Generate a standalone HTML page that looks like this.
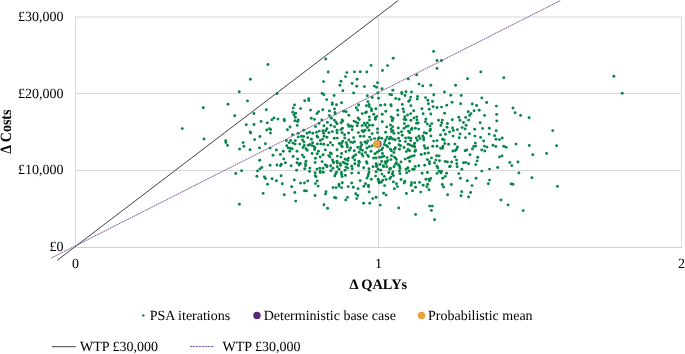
<!DOCTYPE html>
<html><head><meta charset="utf-8"><style>
html,body{margin:0;padding:0;background:#fff;width:685px;height:354px;overflow:hidden}
svg{display:block;text-rendering:geometricPrecision;will-change:transform;font-family:"Liberation Serif",serif;font-size:14px;fill:#000}
</style></head><body>
<svg width="685" height="354" viewBox="0 0 685 354">
<g stroke="#d9d9d9" stroke-width="1" fill="none">
<path d="M75 17H682M75 93.5H682M75 170.5H682M75.5 17V247.5M378.5 17V247.5M681.5 17V247.5"/>
<path d="M75 247.45H682" stroke="#d0d0d0" stroke-width="1.1"/>
</g>
<g fill="#068449"><circle cx="267.9" cy="64.5" r="1.45"/><circle cx="325.8" cy="59" r="1.45"/><circle cx="328.2" cy="72" r="1.45"/><circle cx="346.8" cy="72.6" r="1.45"/><circle cx="345.5" cy="76.6" r="1.45"/><circle cx="354.4" cy="71.9" r="1.45"/><circle cx="360.3" cy="71.7" r="1.45"/><circle cx="366.8" cy="72" r="1.45"/><circle cx="357.1" cy="79.2" r="1.45"/><circle cx="250.4" cy="79.2" r="1.45"/><circle cx="371.1" cy="65.4" r="1.45"/><circle cx="382.5" cy="70.5" r="1.45"/><circle cx="387.6" cy="65.6" r="1.45"/><circle cx="393.2" cy="58.2" r="1.45"/><circle cx="433.6" cy="51.4" r="1.45"/><circle cx="437" cy="60.5" r="1.45"/><circle cx="441.5" cy="60.5" r="1.45"/><circle cx="437" cy="68.4" r="1.45"/><circle cx="416.7" cy="74.9" r="1.45"/><circle cx="408.3" cy="78.9" r="1.45"/><circle cx="480.8" cy="71.9" r="1.45"/><circle cx="467.5" cy="78.7" r="1.45"/><circle cx="503.8" cy="77.7" r="1.45"/><circle cx="613.9" cy="76.2" r="1.45"/><circle cx="203.3" cy="107.7" r="1.45"/><circle cx="228" cy="104.3" r="1.45"/><circle cx="239.3" cy="91.8" r="1.45"/><circle cx="234.7" cy="115.7" r="1.45"/><circle cx="247.5" cy="100.9" r="1.45"/><circle cx="277.1" cy="93.5" r="1.45"/><circle cx="253.9" cy="113.5" r="1.45"/><circle cx="266.3" cy="109.8" r="1.45"/><circle cx="294.5" cy="105" r="1.45"/><circle cx="293.2" cy="108.1" r="1.45"/><circle cx="300.6" cy="108.6" r="1.45"/><circle cx="292.8" cy="112.3" r="1.45"/><circle cx="295.6" cy="113.2" r="1.45"/><circle cx="293.9" cy="115.1" r="1.45"/><circle cx="304.7" cy="100.8" r="1.45"/><circle cx="323.5" cy="81.6" r="1.45"/><circle cx="341" cy="81.2" r="1.45"/><circle cx="352.1" cy="83.5" r="1.45"/><circle cx="339.9" cy="85.3" r="1.45"/><circle cx="356.7" cy="86.3" r="1.45"/><circle cx="364.4" cy="86.6" r="1.45"/><circle cx="342.9" cy="90.8" r="1.45"/><circle cx="353.6" cy="93" r="1.45"/><circle cx="322.1" cy="93.4" r="1.45"/><circle cx="323.9" cy="94.8" r="1.45"/><circle cx="334.1" cy="95.5" r="1.45"/><circle cx="367.3" cy="95.8" r="1.45"/><circle cx="308.7" cy="98.8" r="1.45"/><circle cx="308.9" cy="100.6" r="1.45"/><circle cx="326.7" cy="99.6" r="1.45"/><circle cx="332.2" cy="103" r="1.45"/><circle cx="332.3" cy="104.4" r="1.45"/><circle cx="336.5" cy="104.8" r="1.45"/><circle cx="341.5" cy="102.8" r="1.45"/><circle cx="367.9" cy="101.6" r="1.45"/><circle cx="358.6" cy="105" r="1.45"/><circle cx="356.3" cy="107.7" r="1.45"/><circle cx="357.7" cy="110.1" r="1.45"/><circle cx="366.4" cy="105.8" r="1.45"/><circle cx="369.1" cy="104.4" r="1.45"/><circle cx="369.3" cy="106.6" r="1.45"/><circle cx="310.5" cy="110.1" r="1.45"/><circle cx="322.8" cy="109.8" r="1.45"/><circle cx="334.5" cy="108.9" r="1.45"/><circle cx="329.4" cy="110.9" r="1.45"/><circle cx="318.6" cy="111.6" r="1.45"/><circle cx="317" cy="113.5" r="1.45"/><circle cx="335" cy="112.5" r="1.45"/><circle cx="343.7" cy="111.3" r="1.45"/><circle cx="346.2" cy="111.7" r="1.45"/><circle cx="335.2" cy="113.9" r="1.45"/><circle cx="348.9" cy="115.2" r="1.45"/><circle cx="362.2" cy="113.6" r="1.45"/><circle cx="365.4" cy="112.7" r="1.45"/><circle cx="366.5" cy="112" r="1.45"/><circle cx="329.4" cy="115.6" r="1.45"/><circle cx="377.5" cy="82.8" r="1.45"/><circle cx="374.3" cy="86.1" r="1.45"/><circle cx="376.5" cy="87.3" r="1.45"/><circle cx="382" cy="88.7" r="1.45"/><circle cx="392.8" cy="90.2" r="1.45"/><circle cx="377.7" cy="93" r="1.45"/><circle cx="372.2" cy="97.5" r="1.45"/><circle cx="378.5" cy="98.3" r="1.45"/><circle cx="389.9" cy="94.4" r="1.45"/><circle cx="391.6" cy="94.8" r="1.45"/><circle cx="395.7" cy="98.4" r="1.45"/><circle cx="399.1" cy="99.3" r="1.45"/><circle cx="401.7" cy="92.4" r="1.45"/><circle cx="401.9" cy="93.8" r="1.45"/><circle cx="405" cy="95.5" r="1.45"/><circle cx="406" cy="91.8" r="1.45"/><circle cx="411.5" cy="92" r="1.45"/><circle cx="419" cy="84.1" r="1.45"/><circle cx="422.7" cy="85.9" r="1.45"/><circle cx="430.8" cy="85.3" r="1.45"/><circle cx="410.7" cy="97.1" r="1.45"/><circle cx="409.9" cy="99.9" r="1.45"/><circle cx="408.7" cy="101.4" r="1.45"/><circle cx="417.5" cy="96.5" r="1.45"/><circle cx="417.2" cy="99.1" r="1.45"/><circle cx="425.5" cy="97.6" r="1.45"/><circle cx="427.8" cy="100.3" r="1.45"/><circle cx="432.5" cy="101.4" r="1.45"/><circle cx="433.8" cy="94.8" r="1.45"/><circle cx="428.4" cy="103.8" r="1.45"/><circle cx="433.1" cy="106.6" r="1.45"/><circle cx="380.6" cy="105.2" r="1.45"/><circle cx="384.9" cy="104.8" r="1.45"/><circle cx="390.8" cy="104.8" r="1.45"/><circle cx="391.2" cy="105.8" r="1.45"/><circle cx="402.3" cy="104.4" r="1.45"/><circle cx="410.9" cy="105.8" r="1.45"/><circle cx="371.4" cy="108.9" r="1.45"/><circle cx="371.6" cy="110.7" r="1.45"/><circle cx="375.9" cy="108.7" r="1.45"/><circle cx="385.8" cy="111.3" r="1.45"/><circle cx="397.7" cy="110.3" r="1.45"/><circle cx="403.1" cy="108.9" r="1.45"/><circle cx="403.8" cy="111.7" r="1.45"/><circle cx="413.7" cy="110.7" r="1.45"/><circle cx="421.9" cy="108.7" r="1.45"/><circle cx="429.2" cy="109.3" r="1.45"/><circle cx="373.7" cy="114.2" r="1.45"/><circle cx="382.2" cy="114.2" r="1.45"/><circle cx="397.9" cy="115" r="1.45"/><circle cx="407.6" cy="115" r="1.45"/><circle cx="410.7" cy="113.6" r="1.45"/><circle cx="423.1" cy="113.8" r="1.45"/><circle cx="430.8" cy="114" r="1.45"/><circle cx="455.6" cy="85.3" r="1.45"/><circle cx="444.4" cy="92" r="1.45"/><circle cx="450.8" cy="95.3" r="1.45"/><circle cx="461.2" cy="95.5" r="1.45"/><circle cx="481.8" cy="97.9" r="1.45"/><circle cx="452" cy="102.2" r="1.45"/><circle cx="460.6" cy="103.7" r="1.45"/><circle cx="446.8" cy="105.2" r="1.45"/><circle cx="437" cy="107.5" r="1.45"/><circle cx="441.5" cy="107.1" r="1.45"/><circle cx="472.3" cy="104" r="1.45"/><circle cx="476.5" cy="105.5" r="1.45"/><circle cx="486.7" cy="102.5" r="1.45"/><circle cx="496.4" cy="106.1" r="1.45"/><circle cx="474.1" cy="110.7" r="1.45"/><circle cx="479.2" cy="110.3" r="1.45"/><circle cx="468.2" cy="111.7" r="1.45"/><circle cx="471" cy="113.6" r="1.45"/><circle cx="444.6" cy="113.2" r="1.45"/><circle cx="469.6" cy="115.4" r="1.45"/><circle cx="484.6" cy="115.4" r="1.45"/><circle cx="496.6" cy="114.4" r="1.45"/><circle cx="513" cy="108" r="1.45"/><circle cx="515.1" cy="112.8" r="1.45"/><circle cx="520.6" cy="115.4" r="1.45"/><circle cx="622.2" cy="93.3" r="1.45"/><circle cx="182.3" cy="128.6" r="1.45"/><circle cx="204" cy="139" r="1.45"/><circle cx="225.7" cy="140.7" r="1.45"/><circle cx="225.9" cy="142.5" r="1.45"/><circle cx="227.5" cy="145.4" r="1.45"/><circle cx="239.6" cy="149.1" r="1.45"/><circle cx="246.3" cy="124.7" r="1.45"/><circle cx="254" cy="124.5" r="1.45"/><circle cx="261.1" cy="121.4" r="1.45"/><circle cx="267.3" cy="122.9" r="1.45"/><circle cx="271.9" cy="119.7" r="1.45"/><circle cx="274" cy="118" r="1.45"/><circle cx="278" cy="119.1" r="1.45"/><circle cx="284.1" cy="119.5" r="1.45"/><circle cx="284.4" cy="120.7" r="1.45"/><circle cx="295.3" cy="117.2" r="1.45"/><circle cx="294.9" cy="120.7" r="1.45"/><circle cx="298.2" cy="119.9" r="1.45"/><circle cx="297.6" cy="121.5" r="1.45"/><circle cx="297.2" cy="125.4" r="1.45"/><circle cx="290" cy="127" r="1.45"/><circle cx="287.4" cy="129.8" r="1.45"/><circle cx="266.7" cy="130" r="1.45"/><circle cx="269.5" cy="128.8" r="1.45"/><circle cx="270.7" cy="129.6" r="1.45"/><circle cx="270.5" cy="133.1" r="1.45"/><circle cx="250.2" cy="131.9" r="1.45"/><circle cx="250.6" cy="132.9" r="1.45"/><circle cx="259.9" cy="136.5" r="1.45"/><circle cx="254.6" cy="139.6" r="1.45"/><circle cx="243.1" cy="142.6" r="1.45"/><circle cx="243.9" cy="146.3" r="1.45"/><circle cx="250" cy="149.8" r="1.45"/><circle cx="259.5" cy="147.9" r="1.45"/><circle cx="265.4" cy="143.7" r="1.45"/><circle cx="270.1" cy="148.1" r="1.45"/><circle cx="276.4" cy="150" r="1.45"/><circle cx="283.3" cy="151.2" r="1.45"/><circle cx="303.7" cy="130.2" r="1.45"/><circle cx="298.2" cy="133.3" r="1.45"/><circle cx="292.5" cy="134.7" r="1.45"/><circle cx="298.2" cy="136.9" r="1.45"/><circle cx="301.4" cy="136.3" r="1.45"/><circle cx="303.7" cy="136.5" r="1.45"/><circle cx="286.4" cy="140.6" r="1.45"/><circle cx="290.7" cy="140.4" r="1.45"/><circle cx="295.3" cy="140.8" r="1.45"/><circle cx="289.2" cy="142.6" r="1.45"/><circle cx="292.9" cy="143.1" r="1.45"/><circle cx="295.1" cy="144.1" r="1.45"/><circle cx="299.8" cy="144.1" r="1.45"/><circle cx="302.5" cy="140" r="1.45"/><circle cx="303.9" cy="142" r="1.45"/><circle cx="286.8" cy="145.7" r="1.45"/><circle cx="288.2" cy="147.9" r="1.45"/><circle cx="290" cy="148.3" r="1.45"/><circle cx="292.1" cy="148.7" r="1.45"/><circle cx="303.1" cy="147.5" r="1.45"/><circle cx="304.3" cy="145.5" r="1.45"/><circle cx="289.8" cy="151.2" r="1.45"/><circle cx="297" cy="151.2" r="1.45"/><circle cx="311.3" cy="118.3" r="1.45"/><circle cx="314.5" cy="119.4" r="1.45"/><circle cx="321.8" cy="119.9" r="1.45"/><circle cx="319" cy="123.4" r="1.45"/><circle cx="315.6" cy="126.6" r="1.45"/><circle cx="327.4" cy="122.4" r="1.45"/><circle cx="323.9" cy="125.7" r="1.45"/><circle cx="330.9" cy="125.2" r="1.45"/><circle cx="334.6" cy="126.7" r="1.45"/><circle cx="331.4" cy="118.3" r="1.45"/><circle cx="334.3" cy="120.1" r="1.45"/><circle cx="335.8" cy="122" r="1.45"/><circle cx="337.1" cy="123.7" r="1.45"/><circle cx="326.9" cy="128.8" r="1.45"/><circle cx="325.7" cy="130.7" r="1.45"/><circle cx="322.9" cy="130.7" r="1.45"/><circle cx="319.3" cy="131.1" r="1.45"/><circle cx="316.5" cy="132.2" r="1.45"/><circle cx="309.6" cy="132.2" r="1.45"/><circle cx="307" cy="133.3" r="1.45"/><circle cx="312.8" cy="133.3" r="1.45"/><circle cx="323.6" cy="133.3" r="1.45"/><circle cx="328.9" cy="132.8" r="1.45"/><circle cx="332.3" cy="131.6" r="1.45"/><circle cx="337" cy="130.2" r="1.45"/><circle cx="337" cy="132.8" r="1.45"/><circle cx="342.1" cy="120" r="1.45"/><circle cx="342.8" cy="121.1" r="1.45"/><circle cx="341.1" cy="122.8" r="1.45"/><circle cx="348.1" cy="124.6" r="1.45"/><circle cx="349" cy="126.4" r="1.45"/><circle cx="350.7" cy="126" r="1.45"/><circle cx="352.3" cy="126.5" r="1.45"/><circle cx="352.2" cy="129.8" r="1.45"/><circle cx="342.4" cy="128.2" r="1.45"/><circle cx="340.9" cy="129.6" r="1.45"/><circle cx="342.1" cy="132.8" r="1.45"/><circle cx="348.6" cy="133" r="1.45"/><circle cx="354" cy="121.1" r="1.45"/><circle cx="356.1" cy="122.1" r="1.45"/><circle cx="358.1" cy="118" r="1.45"/><circle cx="359.3" cy="119.6" r="1.45"/><circle cx="357.8" cy="123.1" r="1.45"/><circle cx="357.2" cy="125.7" r="1.45"/><circle cx="362.1" cy="125.5" r="1.45"/><circle cx="364.3" cy="123.1" r="1.45"/><circle cx="367.4" cy="122.9" r="1.45"/><circle cx="365.5" cy="125.2" r="1.45"/><circle cx="367.4" cy="127.5" r="1.45"/><circle cx="369.3" cy="117" r="1.45"/><circle cx="369.5" cy="120.1" r="1.45"/><circle cx="369.4" cy="125.2" r="1.45"/><circle cx="362.1" cy="130.7" r="1.45"/><circle cx="364.9" cy="130.2" r="1.45"/><circle cx="363.4" cy="131.8" r="1.45"/><circle cx="369" cy="130.2" r="1.45"/><circle cx="358.4" cy="132.6" r="1.45"/><circle cx="307.8" cy="137.6" r="1.45"/><circle cx="311.4" cy="139.3" r="1.45"/><circle cx="317" cy="136" r="1.45"/><circle cx="317.7" cy="137.3" r="1.45"/><circle cx="324.1" cy="136.2" r="1.45"/><circle cx="327" cy="137.2" r="1.45"/><circle cx="320.3" cy="140.4" r="1.45"/><circle cx="322.5" cy="139.1" r="1.45"/><circle cx="334.3" cy="138.2" r="1.45"/><circle cx="337.3" cy="138.1" r="1.45"/><circle cx="312.6" cy="142.7" r="1.45"/><circle cx="308.4" cy="145.3" r="1.45"/><circle cx="310" cy="144.4" r="1.45"/><circle cx="312.1" cy="145.6" r="1.45"/><circle cx="314.2" cy="146.7" r="1.45"/><circle cx="315" cy="147.9" r="1.45"/><circle cx="314.5" cy="149.6" r="1.45"/><circle cx="317.4" cy="143.9" r="1.45"/><circle cx="320.9" cy="143.9" r="1.45"/><circle cx="323.8" cy="144.2" r="1.45"/><circle cx="327.9" cy="145.1" r="1.45"/><circle cx="330.4" cy="142.6" r="1.45"/><circle cx="332.7" cy="145.1" r="1.45"/><circle cx="325.3" cy="149.9" r="1.45"/><circle cx="306" cy="148.7" r="1.45"/><circle cx="307.2" cy="150.3" r="1.45"/><circle cx="318.5" cy="151.3" r="1.45"/><circle cx="337" cy="149.8" r="1.45"/><circle cx="344.6" cy="134.7" r="1.45"/><circle cx="360.2" cy="136.2" r="1.45"/><circle cx="363.9" cy="136.3" r="1.45"/><circle cx="369.5" cy="137.1" r="1.45"/><circle cx="344.7" cy="137.9" r="1.45"/><circle cx="353.6" cy="137.6" r="1.45"/><circle cx="348.8" cy="139.9" r="1.45"/><circle cx="342.9" cy="141.1" r="1.45"/><circle cx="339.2" cy="143.5" r="1.45"/><circle cx="341.6" cy="142.9" r="1.45"/><circle cx="341.3" cy="145.4" r="1.45"/><circle cx="342.3" cy="146.7" r="1.45"/><circle cx="346.2" cy="142.6" r="1.45"/><circle cx="347" cy="144.7" r="1.45"/><circle cx="347.4" cy="147.1" r="1.45"/><circle cx="350.7" cy="142.1" r="1.45"/><circle cx="352.8" cy="142.6" r="1.45"/><circle cx="354.5" cy="141.6" r="1.45"/><circle cx="360.9" cy="142.6" r="1.45"/><circle cx="361.7" cy="144.7" r="1.45"/><circle cx="364.9" cy="141.9" r="1.45"/><circle cx="367.7" cy="140.9" r="1.45"/><circle cx="366.5" cy="143.2" r="1.45"/><circle cx="357.8" cy="147.2" r="1.45"/><circle cx="360.7" cy="146.7" r="1.45"/><circle cx="360.4" cy="149.3" r="1.45"/><circle cx="362.4" cy="150.3" r="1.45"/><circle cx="366.9" cy="148" r="1.45"/><circle cx="369.3" cy="146.7" r="1.45"/><circle cx="350.7" cy="148" r="1.45"/><circle cx="349.4" cy="150.3" r="1.45"/><circle cx="354.3" cy="150.8" r="1.45"/><circle cx="345.9" cy="151.6" r="1.45"/><circle cx="376.6" cy="116.4" r="1.45"/><circle cx="375.3" cy="117.8" r="1.45"/><circle cx="375.4" cy="119.2" r="1.45"/><circle cx="382.3" cy="121.8" r="1.45"/><circle cx="391.2" cy="117" r="1.45"/><circle cx="393.2" cy="118.1" r="1.45"/><circle cx="392.4" cy="119.6" r="1.45"/><circle cx="392.2" cy="120.7" r="1.45"/><circle cx="372.7" cy="125.2" r="1.45"/><circle cx="377.5" cy="129" r="1.45"/><circle cx="386.7" cy="126.9" r="1.45"/><circle cx="390.4" cy="124.9" r="1.45"/><circle cx="392.6" cy="126.7" r="1.45"/><circle cx="391.1" cy="129" r="1.45"/><circle cx="391.4" cy="131.6" r="1.45"/><circle cx="392.9" cy="130.8" r="1.45"/><circle cx="398.3" cy="127.9" r="1.45"/><circle cx="372.1" cy="133.6" r="1.45"/><circle cx="377.5" cy="132.6" r="1.45"/><circle cx="385.5" cy="132.3" r="1.45"/><circle cx="393.9" cy="133.3" r="1.45"/><circle cx="398.5" cy="133.1" r="1.45"/><circle cx="401.5" cy="131.8" r="1.45"/><circle cx="404.8" cy="116.7" r="1.45"/><circle cx="404" cy="119.4" r="1.45"/><circle cx="405.9" cy="119.8" r="1.45"/><circle cx="410.9" cy="120.3" r="1.45"/><circle cx="413.9" cy="118" r="1.45"/><circle cx="416.7" cy="117" r="1.45"/><circle cx="416.9" cy="119.9" r="1.45"/><circle cx="404.3" cy="123.6" r="1.45"/><circle cx="416.5" cy="123.3" r="1.45"/><circle cx="418.2" cy="123" r="1.45"/><circle cx="425.9" cy="119.1" r="1.45"/><circle cx="425.5" cy="121.7" r="1.45"/><circle cx="427.4" cy="124.1" r="1.45"/><circle cx="431.8" cy="123.6" r="1.45"/><circle cx="430.1" cy="126" r="1.45"/><circle cx="406.1" cy="126.7" r="1.45"/><circle cx="408.1" cy="126" r="1.45"/><circle cx="404" cy="128.4" r="1.45"/><circle cx="412" cy="128.2" r="1.45"/><circle cx="411.4" cy="129.7" r="1.45"/><circle cx="415.4" cy="128.2" r="1.45"/><circle cx="418.7" cy="129.1" r="1.45"/><circle cx="430.5" cy="129.2" r="1.45"/><circle cx="429.9" cy="130.7" r="1.45"/><circle cx="408.5" cy="131.3" r="1.45"/><circle cx="409.7" cy="132.8" r="1.45"/><circle cx="424.2" cy="132.6" r="1.45"/><circle cx="426.4" cy="133.3" r="1.45"/><circle cx="374.6" cy="138.6" r="1.45"/><circle cx="378.2" cy="138.8" r="1.45"/><circle cx="379.2" cy="137.8" r="1.45"/><circle cx="381.8" cy="138.3" r="1.45"/><circle cx="371" cy="139.6" r="1.45"/><circle cx="387.1" cy="137.1" r="1.45"/><circle cx="390.4" cy="137.1" r="1.45"/><circle cx="385.8" cy="139.6" r="1.45"/><circle cx="384.8" cy="141.6" r="1.45"/><circle cx="389.3" cy="139.1" r="1.45"/><circle cx="391.4" cy="138.3" r="1.45"/><circle cx="392.9" cy="139.1" r="1.45"/><circle cx="395.2" cy="139.7" r="1.45"/><circle cx="398.5" cy="138.3" r="1.45"/><circle cx="399.7" cy="140.9" r="1.45"/><circle cx="389.4" cy="143.2" r="1.45"/><circle cx="384.3" cy="144.5" r="1.45"/><circle cx="386.3" cy="145.4" r="1.45"/><circle cx="387.8" cy="146.7" r="1.45"/><circle cx="395.4" cy="147.7" r="1.45"/><circle cx="394.4" cy="149.3" r="1.45"/><circle cx="399" cy="144.7" r="1.45"/><circle cx="400.5" cy="145.7" r="1.45"/><circle cx="372.1" cy="146" r="1.45"/><circle cx="382.7" cy="148" r="1.45"/><circle cx="381.7" cy="149.8" r="1.45"/><circle cx="379.2" cy="150.8" r="1.45"/><circle cx="390.4" cy="149.3" r="1.45"/><circle cx="391.4" cy="150.8" r="1.45"/><circle cx="399.5" cy="149.3" r="1.45"/><circle cx="371" cy="151.3" r="1.45"/><circle cx="402.3" cy="135.2" r="1.45"/><circle cx="405.6" cy="137.9" r="1.45"/><circle cx="408.6" cy="137.8" r="1.45"/><circle cx="410.9" cy="138.1" r="1.45"/><circle cx="410.6" cy="140.6" r="1.45"/><circle cx="405.4" cy="141.6" r="1.45"/><circle cx="416.2" cy="137.9" r="1.45"/><circle cx="418.9" cy="136.2" r="1.45"/><circle cx="420.1" cy="138.6" r="1.45"/><circle cx="417.3" cy="140.4" r="1.45"/><circle cx="422.8" cy="136" r="1.45"/><circle cx="423.6" cy="137.7" r="1.45"/><circle cx="423.7" cy="139.9" r="1.45"/><circle cx="430.9" cy="135.9" r="1.45"/><circle cx="433.6" cy="141.1" r="1.45"/><circle cx="414.6" cy="143.2" r="1.45"/><circle cx="408.1" cy="144.2" r="1.45"/><circle cx="410.1" cy="144.9" r="1.45"/><circle cx="412.2" cy="146" r="1.45"/><circle cx="414.2" cy="145.7" r="1.45"/><circle cx="414.7" cy="147" r="1.45"/><circle cx="404" cy="147.5" r="1.45"/><circle cx="424.2" cy="145.7" r="1.45"/><circle cx="425.1" cy="148.2" r="1.45"/><circle cx="427.7" cy="148" r="1.45"/><circle cx="432.7" cy="146.2" r="1.45"/><circle cx="407.9" cy="149.5" r="1.45"/><circle cx="409.6" cy="150.8" r="1.45"/><circle cx="406.4" cy="151.6" r="1.45"/><circle cx="415.7" cy="150.1" r="1.45"/><circle cx="415" cy="151.3" r="1.45"/><circle cx="438.5" cy="120.3" r="1.45"/><circle cx="442.3" cy="120.1" r="1.45"/><circle cx="441.7" cy="122.7" r="1.45"/><circle cx="440.9" cy="125.4" r="1.45"/><circle cx="447.4" cy="123.5" r="1.45"/><circle cx="447" cy="127.2" r="1.45"/><circle cx="452.3" cy="119.7" r="1.45"/><circle cx="458.8" cy="117.2" r="1.45"/><circle cx="460" cy="120.3" r="1.45"/><circle cx="465.7" cy="117.4" r="1.45"/><circle cx="468.6" cy="120.1" r="1.45"/><circle cx="463.5" cy="122.5" r="1.45"/><circle cx="466.1" cy="125.2" r="1.45"/><circle cx="462.1" cy="127.6" r="1.45"/><circle cx="465.1" cy="129" r="1.45"/><circle cx="452.5" cy="128" r="1.45"/><circle cx="453.3" cy="130.4" r="1.45"/><circle cx="457.4" cy="129.6" r="1.45"/><circle cx="449.6" cy="131.9" r="1.45"/><circle cx="443.7" cy="130.2" r="1.45"/><circle cx="440.5" cy="134.9" r="1.45"/><circle cx="445.4" cy="134.3" r="1.45"/><circle cx="453.1" cy="136.1" r="1.45"/><circle cx="460" cy="133.9" r="1.45"/><circle cx="459.2" cy="137.8" r="1.45"/><circle cx="465.5" cy="137.6" r="1.45"/><circle cx="469.4" cy="133.7" r="1.45"/><circle cx="474.7" cy="129.2" r="1.45"/><circle cx="480.2" cy="122.7" r="1.45"/><circle cx="482.6" cy="128.4" r="1.45"/><circle cx="489.3" cy="128.2" r="1.45"/><circle cx="496.8" cy="120.9" r="1.45"/><circle cx="496.2" cy="130.8" r="1.45"/><circle cx="489.1" cy="134.1" r="1.45"/><circle cx="494.6" cy="135.7" r="1.45"/><circle cx="496" cy="139.2" r="1.45"/><circle cx="499.5" cy="139.6" r="1.45"/><circle cx="474.9" cy="136.1" r="1.45"/><circle cx="480.6" cy="137.4" r="1.45"/><circle cx="483.6" cy="141" r="1.45"/><circle cx="475.3" cy="143.1" r="1.45"/><circle cx="473.7" cy="146.5" r="1.45"/><circle cx="475.7" cy="146.1" r="1.45"/><circle cx="472.4" cy="148.9" r="1.45"/><circle cx="484.4" cy="146.1" r="1.45"/><circle cx="486.9" cy="147.1" r="1.45"/><circle cx="493" cy="145.3" r="1.45"/><circle cx="495.8" cy="146.5" r="1.45"/><circle cx="437" cy="140.6" r="1.45"/><circle cx="442.5" cy="139.2" r="1.45"/><circle cx="444.2" cy="140" r="1.45"/><circle cx="444.8" cy="143.5" r="1.45"/><circle cx="448.6" cy="144.3" r="1.45"/><circle cx="437" cy="146.3" r="1.45"/><circle cx="442.9" cy="146.1" r="1.45"/><circle cx="440.7" cy="148.3" r="1.45"/><circle cx="442.7" cy="148.3" r="1.45"/><circle cx="454.9" cy="144.1" r="1.45"/><circle cx="457.4" cy="146.9" r="1.45"/><circle cx="456.6" cy="149.2" r="1.45"/><circle cx="455.3" cy="150.6" r="1.45"/><circle cx="452.9" cy="151" r="1.45"/><circle cx="465.1" cy="150.8" r="1.45"/><circle cx="466.7" cy="150" r="1.45"/><circle cx="481.8" cy="150" r="1.45"/><circle cx="484.8" cy="151" r="1.45"/><circle cx="529.1" cy="117.8" r="1.45"/><circle cx="552.7" cy="130.6" r="1.45"/><circle cx="502.2" cy="138" r="1.45"/><circle cx="503.7" cy="146.3" r="1.45"/><circle cx="506.1" cy="147.3" r="1.45"/><circle cx="516.1" cy="144.1" r="1.45"/><circle cx="529.3" cy="145.5" r="1.45"/><circle cx="556.6" cy="145.7" r="1.45"/><circle cx="235.7" cy="173.5" r="1.45"/><circle cx="241.6" cy="170.7" r="1.45"/><circle cx="259.7" cy="160.3" r="1.45"/><circle cx="261.8" cy="167.5" r="1.45"/><circle cx="259.9" cy="168.9" r="1.45"/><circle cx="257.5" cy="170.9" r="1.45"/><circle cx="256.9" cy="176.2" r="1.45"/><circle cx="264.4" cy="177" r="1.45"/><circle cx="265.4" cy="178.4" r="1.45"/><circle cx="267.5" cy="184.3" r="1.45"/><circle cx="272.1" cy="178.8" r="1.45"/><circle cx="276.4" cy="180.7" r="1.45"/><circle cx="270.1" cy="165.2" r="1.45"/><circle cx="273" cy="155.3" r="1.45"/><circle cx="277" cy="165" r="1.45"/><circle cx="280.4" cy="154.4" r="1.45"/><circle cx="283.7" cy="158.9" r="1.45"/><circle cx="285.4" cy="162.8" r="1.45"/><circle cx="281.3" cy="164.2" r="1.45"/><circle cx="280.5" cy="165.8" r="1.45"/><circle cx="281.1" cy="175.8" r="1.45"/><circle cx="282.3" cy="183.7" r="1.45"/><circle cx="291.1" cy="165.8" r="1.45"/><circle cx="293.1" cy="156.5" r="1.45"/><circle cx="297.6" cy="158.9" r="1.45"/><circle cx="297" cy="162.8" r="1.45"/><circle cx="299.4" cy="164" r="1.45"/><circle cx="300.4" cy="163.4" r="1.45"/><circle cx="299" cy="165" r="1.45"/><circle cx="302.3" cy="155.1" r="1.45"/><circle cx="303.9" cy="157.1" r="1.45"/><circle cx="296.6" cy="170.3" r="1.45"/><circle cx="294.3" cy="179.9" r="1.45"/><circle cx="291.7" cy="186.8" r="1.45"/><circle cx="300.6" cy="183.1" r="1.45"/><circle cx="304.5" cy="182.9" r="1.45"/><circle cx="304.7" cy="168.7" r="1.45"/><circle cx="312.1" cy="153.5" r="1.45"/><circle cx="317.2" cy="153.8" r="1.45"/><circle cx="323.1" cy="154.8" r="1.45"/><circle cx="330.3" cy="153" r="1.45"/><circle cx="331.4" cy="153.8" r="1.45"/><circle cx="315.4" cy="158.3" r="1.45"/><circle cx="320.2" cy="157" r="1.45"/><circle cx="328.7" cy="155.6" r="1.45"/><circle cx="329.9" cy="156.9" r="1.45"/><circle cx="337.3" cy="156.1" r="1.45"/><circle cx="306" cy="161.2" r="1.45"/><circle cx="305.5" cy="163.7" r="1.45"/><circle cx="305.6" cy="165.7" r="1.45"/><circle cx="315.1" cy="162.5" r="1.45"/><circle cx="322.1" cy="161.6" r="1.45"/><circle cx="332.5" cy="159.9" r="1.45"/><circle cx="333.3" cy="162" r="1.45"/><circle cx="333.5" cy="162.7" r="1.45"/><circle cx="337" cy="161.2" r="1.45"/><circle cx="337.3" cy="163" r="1.45"/><circle cx="325.3" cy="165" r="1.45"/><circle cx="326.9" cy="165.7" r="1.45"/><circle cx="326.9" cy="166.7" r="1.45"/><circle cx="330.7" cy="165.8" r="1.45"/><circle cx="309.9" cy="168.1" r="1.45"/><circle cx="316.9" cy="169.1" r="1.45"/><circle cx="319.7" cy="168.1" r="1.45"/><circle cx="323" cy="168.3" r="1.45"/><circle cx="332.9" cy="168.3" r="1.45"/><circle cx="337.3" cy="166.7" r="1.45"/><circle cx="341.6" cy="153.5" r="1.45"/><circle cx="340.9" cy="157.1" r="1.45"/><circle cx="345.1" cy="159.3" r="1.45"/><circle cx="347.2" cy="159.6" r="1.45"/><circle cx="348.5" cy="158.1" r="1.45"/><circle cx="347.9" cy="160.6" r="1.45"/><circle cx="355.8" cy="154.8" r="1.45"/><circle cx="353.8" cy="156.1" r="1.45"/><circle cx="352.8" cy="157.6" r="1.45"/><circle cx="354.8" cy="159.9" r="1.45"/><circle cx="359.2" cy="152.3" r="1.45"/><circle cx="361.9" cy="154" r="1.45"/><circle cx="362.9" cy="156.1" r="1.45"/><circle cx="365.5" cy="152.5" r="1.45"/><circle cx="367.5" cy="155.1" r="1.45"/><circle cx="368.5" cy="156.6" r="1.45"/><circle cx="358.9" cy="161.2" r="1.45"/><circle cx="359.4" cy="162.2" r="1.45"/><circle cx="366.5" cy="161.7" r="1.45"/><circle cx="367" cy="163.2" r="1.45"/><circle cx="343.1" cy="162.2" r="1.45"/><circle cx="345.1" cy="163.2" r="1.45"/><circle cx="347.2" cy="164.2" r="1.45"/><circle cx="340.1" cy="163.7" r="1.45"/><circle cx="340.6" cy="165.2" r="1.45"/><circle cx="354.8" cy="163.8" r="1.45"/><circle cx="358.4" cy="164.7" r="1.45"/><circle cx="358.4" cy="165.7" r="1.45"/><circle cx="351.7" cy="166.2" r="1.45"/><circle cx="352.3" cy="168.8" r="1.45"/><circle cx="345.9" cy="167.1" r="1.45"/><circle cx="347.7" cy="168.1" r="1.45"/><circle cx="363.7" cy="167.7" r="1.45"/><circle cx="369" cy="168.8" r="1.45"/><circle cx="339" cy="169.3" r="1.45"/><circle cx="309.6" cy="171.5" r="1.45"/><circle cx="320.1" cy="171" r="1.45"/><circle cx="320.3" cy="172.5" r="1.45"/><circle cx="323.3" cy="172.3" r="1.45"/><circle cx="315.2" cy="172.8" r="1.45"/><circle cx="315.2" cy="175.7" r="1.45"/><circle cx="316" cy="176.6" r="1.45"/><circle cx="330.9" cy="170.7" r="1.45"/><circle cx="336.5" cy="172.3" r="1.45"/><circle cx="335.5" cy="174.1" r="1.45"/><circle cx="334.8" cy="175.9" r="1.45"/><circle cx="307.7" cy="180.9" r="1.45"/><circle cx="317.2" cy="180.9" r="1.45"/><circle cx="315.4" cy="183.6" r="1.45"/><circle cx="318.1" cy="186.1" r="1.45"/><circle cx="333" cy="187.6" r="1.45"/><circle cx="336" cy="187.6" r="1.45"/><circle cx="345.1" cy="170.2" r="1.45"/><circle cx="341.4" cy="172.5" r="1.45"/><circle cx="341.6" cy="174.6" r="1.45"/><circle cx="342.1" cy="176.6" r="1.45"/><circle cx="345.4" cy="175.4" r="1.45"/><circle cx="351.7" cy="173.1" r="1.45"/><circle cx="358.6" cy="172.9" r="1.45"/><circle cx="369" cy="172" r="1.45"/><circle cx="368.5" cy="174.1" r="1.45"/><circle cx="368" cy="176.1" r="1.45"/><circle cx="367" cy="178.1" r="1.45"/><circle cx="360.2" cy="180.6" r="1.45"/><circle cx="342.3" cy="182.7" r="1.45"/><circle cx="339" cy="184.2" r="1.45"/><circle cx="339" cy="186.1" r="1.45"/><circle cx="351.7" cy="183" r="1.45"/><circle cx="348.2" cy="186.6" r="1.45"/><circle cx="353.3" cy="187.3" r="1.45"/><circle cx="365.5" cy="183.8" r="1.45"/><circle cx="363.9" cy="186.3" r="1.45"/><circle cx="368.5" cy="185.3" r="1.45"/><circle cx="368.5" cy="186.8" r="1.45"/><circle cx="341.6" cy="187.6" r="1.45"/><circle cx="374.9" cy="153.7" r="1.45"/><circle cx="377.1" cy="152.3" r="1.45"/><circle cx="382.4" cy="153.5" r="1.45"/><circle cx="393.9" cy="152.5" r="1.45"/><circle cx="373.6" cy="158" r="1.45"/><circle cx="376.1" cy="158" r="1.45"/><circle cx="379.7" cy="157.3" r="1.45"/><circle cx="381.7" cy="157.1" r="1.45"/><circle cx="383.7" cy="156.3" r="1.45"/><circle cx="387.1" cy="157.6" r="1.45"/><circle cx="391.6" cy="155.7" r="1.45"/><circle cx="394.4" cy="157.1" r="1.45"/><circle cx="395.4" cy="158.1" r="1.45"/><circle cx="396.5" cy="159.6" r="1.45"/><circle cx="390.9" cy="159.6" r="1.45"/><circle cx="381.7" cy="161.5" r="1.45"/><circle cx="385.3" cy="161.7" r="1.45"/><circle cx="386.3" cy="162.2" r="1.45"/><circle cx="387.8" cy="160.6" r="1.45"/><circle cx="385.8" cy="163.7" r="1.45"/><circle cx="376.1" cy="163.7" r="1.45"/><circle cx="376.6" cy="165.2" r="1.45"/><circle cx="380" cy="164.4" r="1.45"/><circle cx="383.2" cy="165.7" r="1.45"/><circle cx="383.7" cy="166.7" r="1.45"/><circle cx="386.8" cy="166.7" r="1.45"/><circle cx="396.5" cy="162.7" r="1.45"/><circle cx="395.4" cy="164.2" r="1.45"/><circle cx="401" cy="162" r="1.45"/><circle cx="398.5" cy="164.7" r="1.45"/><circle cx="399.5" cy="166.2" r="1.45"/><circle cx="400" cy="168.3" r="1.45"/><circle cx="393.9" cy="166.7" r="1.45"/><circle cx="373.1" cy="166.7" r="1.45"/><circle cx="376.6" cy="166.7" r="1.45"/><circle cx="378.2" cy="169.3" r="1.45"/><circle cx="390.4" cy="168.3" r="1.45"/><circle cx="389.8" cy="169.3" r="1.45"/><circle cx="421.3" cy="154.5" r="1.45"/><circle cx="424.9" cy="153.5" r="1.45"/><circle cx="428.4" cy="153" r="1.45"/><circle cx="414.2" cy="155.6" r="1.45"/><circle cx="412.2" cy="156.1" r="1.45"/><circle cx="410.1" cy="156.9" r="1.45"/><circle cx="408.1" cy="157.9" r="1.45"/><circle cx="405.3" cy="159.1" r="1.45"/><circle cx="409.7" cy="161.2" r="1.45"/><circle cx="427.4" cy="159.6" r="1.45"/><circle cx="431.5" cy="157.9" r="1.45"/><circle cx="429.5" cy="161.7" r="1.45"/><circle cx="429.5" cy="163.7" r="1.45"/><circle cx="434.5" cy="163" r="1.45"/><circle cx="418.8" cy="165.7" r="1.45"/><circle cx="415.2" cy="166.4" r="1.45"/><circle cx="424.7" cy="165.3" r="1.45"/><circle cx="407.9" cy="167.8" r="1.45"/><circle cx="406.1" cy="169.3" r="1.45"/><circle cx="412.7" cy="169.3" r="1.45"/><circle cx="414.2" cy="169.3" r="1.45"/><circle cx="376.1" cy="171.8" r="1.45"/><circle cx="380.7" cy="170.3" r="1.45"/><circle cx="375.6" cy="176.1" r="1.45"/><circle cx="371.3" cy="179.2" r="1.45"/><circle cx="382" cy="174.1" r="1.45"/><circle cx="384.3" cy="176.4" r="1.45"/><circle cx="378.2" cy="179.2" r="1.45"/><circle cx="378.7" cy="181.2" r="1.45"/><circle cx="379.2" cy="182.7" r="1.45"/><circle cx="381.2" cy="182.2" r="1.45"/><circle cx="382.7" cy="180.2" r="1.45"/><circle cx="386.1" cy="179.5" r="1.45"/><circle cx="388.8" cy="172.5" r="1.45"/><circle cx="392.9" cy="172" r="1.45"/><circle cx="392.4" cy="174.1" r="1.45"/><circle cx="393.4" cy="175.6" r="1.45"/><circle cx="390.9" cy="177.1" r="1.45"/><circle cx="389.8" cy="178.6" r="1.45"/><circle cx="399.5" cy="171" r="1.45"/><circle cx="400" cy="173.6" r="1.45"/><circle cx="401" cy="179.5" r="1.45"/><circle cx="393.4" cy="181.9" r="1.45"/><circle cx="396.5" cy="183.7" r="1.45"/><circle cx="397.5" cy="186.6" r="1.45"/><circle cx="384.6" cy="185.6" r="1.45"/><circle cx="409.1" cy="171" r="1.45"/><circle cx="406.6" cy="172.8" r="1.45"/><circle cx="422.1" cy="173.3" r="1.45"/><circle cx="427.4" cy="172.5" r="1.45"/><circle cx="425.9" cy="179.2" r="1.45"/><circle cx="428.9" cy="179.2" r="1.45"/><circle cx="430.8" cy="178.4" r="1.45"/><circle cx="429.5" cy="180.7" r="1.45"/><circle cx="404.8" cy="181.2" r="1.45"/><circle cx="404.2" cy="183" r="1.45"/><circle cx="411.5" cy="182.7" r="1.45"/><circle cx="411.2" cy="185.3" r="1.45"/><circle cx="414.7" cy="182.7" r="1.45"/><circle cx="419.5" cy="182.4" r="1.45"/><circle cx="423.2" cy="185.2" r="1.45"/><circle cx="427.7" cy="184.2" r="1.45"/><circle cx="426.9" cy="186.8" r="1.45"/><circle cx="415.5" cy="187.3" r="1.45"/><circle cx="436.6" cy="155.7" r="1.45"/><circle cx="439.1" cy="155.9" r="1.45"/><circle cx="435.8" cy="160.1" r="1.45"/><circle cx="439.5" cy="160.7" r="1.45"/><circle cx="445.2" cy="161.4" r="1.45"/><circle cx="447.4" cy="162" r="1.45"/><circle cx="451.7" cy="162" r="1.45"/><circle cx="454.9" cy="156.9" r="1.45"/><circle cx="456.6" cy="160.1" r="1.45"/><circle cx="456.8" cy="163.8" r="1.45"/><circle cx="457.2" cy="166.8" r="1.45"/><circle cx="450.3" cy="166.2" r="1.45"/><circle cx="449.6" cy="166.8" r="1.45"/><circle cx="437" cy="166.2" r="1.45"/><circle cx="437.8" cy="167.9" r="1.45"/><circle cx="470" cy="154.8" r="1.45"/><circle cx="477.7" cy="157.3" r="1.45"/><circle cx="477.1" cy="160.9" r="1.45"/><circle cx="475.7" cy="164.6" r="1.45"/><circle cx="463.5" cy="162.8" r="1.45"/><circle cx="465.7" cy="162.4" r="1.45"/><circle cx="468.6" cy="163.8" r="1.45"/><circle cx="499.5" cy="156.9" r="1.45"/><circle cx="497.7" cy="167.5" r="1.45"/><circle cx="489.5" cy="169.1" r="1.45"/><circle cx="481.8" cy="171.1" r="1.45"/><circle cx="461.9" cy="169.3" r="1.45"/><circle cx="439.1" cy="171.3" r="1.45"/><circle cx="441.5" cy="171.3" r="1.45"/><circle cx="437" cy="173.4" r="1.45"/><circle cx="440.9" cy="172.9" r="1.45"/><circle cx="446.6" cy="173.2" r="1.45"/><circle cx="445.2" cy="176.4" r="1.45"/><circle cx="442.7" cy="178.2" r="1.45"/><circle cx="458.8" cy="173.6" r="1.45"/><circle cx="460.4" cy="178.2" r="1.45"/><circle cx="467.3" cy="180.7" r="1.45"/><circle cx="476.1" cy="178.2" r="1.45"/><circle cx="489.5" cy="180.1" r="1.45"/><circle cx="488.3" cy="183.7" r="1.45"/><circle cx="472" cy="185.6" r="1.45"/><circle cx="451.3" cy="184.5" r="1.45"/><circle cx="442.3" cy="184.5" r="1.45"/><circle cx="443.5" cy="187" r="1.45"/><circle cx="502" cy="155.9" r="1.45"/><circle cx="532.8" cy="154.8" r="1.45"/><circle cx="546.6" cy="153.4" r="1.45"/><circle cx="509.8" cy="162.4" r="1.45"/><circle cx="511.8" cy="165.6" r="1.45"/><circle cx="517.9" cy="162" r="1.45"/><circle cx="518.9" cy="172.9" r="1.45"/><circle cx="531.9" cy="177.8" r="1.45"/><circle cx="511" cy="183.9" r="1.45"/><circle cx="513" cy="184.3" r="1.45"/><circle cx="557.4" cy="186.4" r="1.45"/><circle cx="239.4" cy="204.3" r="1.45"/><circle cx="263.1" cy="193.4" r="1.45"/><circle cx="284.2" cy="194.8" r="1.45"/><circle cx="294.8" cy="192.5" r="1.45"/><circle cx="295.7" cy="201.1" r="1.45"/><circle cx="304.5" cy="190.7" r="1.45"/><circle cx="358.1" cy="188.8" r="1.45"/><circle cx="326" cy="191.7" r="1.45"/><circle cx="325.5" cy="194.1" r="1.45"/><circle cx="315" cy="195.5" r="1.45"/><circle cx="334.5" cy="197.4" r="1.45"/><circle cx="335.9" cy="198" r="1.45"/><circle cx="347.5" cy="197.4" r="1.45"/><circle cx="345.7" cy="200" r="1.45"/><circle cx="355.7" cy="193.7" r="1.45"/><circle cx="357.7" cy="195.5" r="1.45"/><circle cx="356.7" cy="198.6" r="1.45"/><circle cx="369.1" cy="191.9" r="1.45"/><circle cx="363.6" cy="203.3" r="1.45"/><circle cx="369.7" cy="203.3" r="1.45"/><circle cx="323.9" cy="204.7" r="1.45"/><circle cx="327.6" cy="208.3" r="1.45"/><circle cx="372.8" cy="198.6" r="1.45"/><circle cx="376.1" cy="197.2" r="1.45"/><circle cx="383.6" cy="193.3" r="1.45"/><circle cx="386.1" cy="195.1" r="1.45"/><circle cx="394.4" cy="188.8" r="1.45"/><circle cx="380.2" cy="205.1" r="1.45"/><circle cx="398.7" cy="207.9" r="1.45"/><circle cx="406.4" cy="193.5" r="1.45"/><circle cx="412.5" cy="190.8" r="1.45"/><circle cx="420.7" cy="192.1" r="1.45"/><circle cx="429" cy="189.8" r="1.45"/><circle cx="429.6" cy="206.1" r="1.45"/><circle cx="432.3" cy="206.1" r="1.45"/><circle cx="431.4" cy="210.4" r="1.45"/><circle cx="415.6" cy="214.4" r="1.45"/><circle cx="434.5" cy="219.7" r="1.45"/><circle cx="447.6" cy="194.7" r="1.45"/><circle cx="461.7" cy="191.7" r="1.45"/><circle cx="461" cy="195.7" r="1.45"/><circle cx="470.6" cy="192.5" r="1.45"/><circle cx="468.6" cy="196.9" r="1.45"/><circle cx="501" cy="200" r="1.45"/><circle cx="508.1" cy="204.9" r="1.45"/><circle cx="523.2" cy="210.6" r="1.45"/><circle cx="306.4" cy="190.9" r="1.45"/></g>
<line x1="57.2" y1="260.3" x2="398.2" y2="0.5" stroke="#404040" stroke-width="1"/>
<line x1="51" y1="258.2" x2="560.5" y2="0.5" stroke="#9a6aa8" stroke-width="0.75" stroke-opacity="0.4"/>
<line x1="51" y1="258.2" x2="560.5" y2="0.5" stroke="#633c84" stroke-width="0.78" stroke-dasharray="1.5 0.95"/>
<circle cx="377.9" cy="144.1" r="3.75" fill="#582878"/>
<circle cx="376.8" cy="144" r="3.8" fill="#e8a43a"/>
<g text-anchor="end">
<text x="63.4" y="21.2">£30,000</text>
<text x="63.4" y="97.7">£20,000</text>
<text x="63.4" y="174.2">£10,000</text>
<text x="63.4" y="250.7">£0</text>
</g>
<g text-anchor="middle">
<text x="75.5" y="268.4">0</text>
<text x="378.5" y="268.4">1</text>
<text x="681.5" y="268.4">2</text>
<text x="378.3" y="288.7" font-weight="bold" font-size="14.4">Δ QALYs</text>
<text transform="translate(11.2 131.6) rotate(-90) scale(1 1.12)" font-weight="bold">Δ Costs</text>
</g>
<circle cx="143.3" cy="315.4" r="1.2" fill="#068449"/>
<text x="149.7" y="319.5">PSA iterations</text>
<circle cx="257" cy="315.4" r="3.7" fill="#582878"/>
<text x="263.7" y="319.5">Deterministic base case</text>
<circle cx="421.5" cy="315.4" r="3.7" fill="#e8a43a"/>
<text x="428" y="319.5">Probabilistic mean</text>
<line x1="51.8" y1="346.7" x2="75.7" y2="346.7" stroke="#404040" stroke-width="1"/>
<text x="80" y="350.6">WTP £30,000</text>
<line x1="189.9" y1="346.5" x2="214.2" y2="346.5" stroke="#74509c" stroke-width="0.8" stroke-opacity="0.3"/>
<line x1="189.9" y1="346.5" x2="214.2" y2="346.5" stroke="#74509c" stroke-width="0.9" stroke-dasharray="2 1"/>
<text x="222.5" y="350.6">WTP £30,000</text>
</svg>
</body></html>
